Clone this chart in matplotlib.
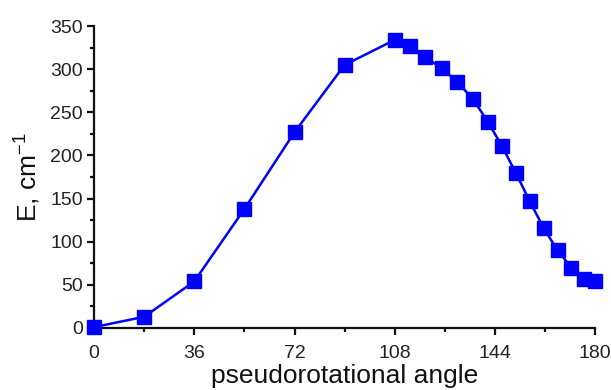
import matplotlib
matplotlib.use("Agg")
import matplotlib.pyplot as plt
from matplotlib.ticker import MultipleLocator

angle = [0, 18, 36, 54, 72, 90, 108, 113.5, 119, 125, 130.5, 136, 141.5,
         146.5, 151.5, 156.5, 161.5, 166.5, 171.5, 176, 180]
energy = [1, 13, 54, 138, 227, 305, 334, 327, 314, 301, 285, 266, 239,
          211, 180, 147, 116, 90, 70, 57, 55]

plt.rcParams['font.family'] = ['Liberation Sans', 'DejaVu Sans']
plt.rcParams['mathtext.fontset'] = 'custom'
plt.rcParams['mathtext.rm'] = 'Liberation Sans'

fig = plt.figure(figsize=(6.11, 3.90), dpi=100)
fig.set_facecolor('white')
ax = fig.add_axes([0.154, 0.159, 0.820, 0.774])

ax.plot(angle, energy, color='#0000ff', linewidth=1.8, marker='s',
        markersize=10, markeredgecolor='#0000ff', clip_on=False, zorder=3)

ax.set_xlim(0, 180)
ax.set_ylim(0, 350)
ax.xaxis.set_major_locator(MultipleLocator(36))
ax.xaxis.set_minor_locator(MultipleLocator(18))
ax.yaxis.set_major_locator(MultipleLocator(50))
ax.yaxis.set_minor_locator(MultipleLocator(25))

for side in ['top', 'right']:
    ax.spines[side].set_visible(False)
for side in ['left', 'bottom']:
    ax.spines[side].set_linewidth(1.6)
    ax.spines[side].set_color('#111111')

ax.tick_params(which='major', direction='out', length=5, width=1.6,
               labelsize=14, pad=3, colors='#111111', labelcolor='#222222')
ax.tick_params(axis='x', which='major', pad=7)
ax.tick_params(which='minor', direction='out', length=3, width=1.6, colors='#111111')

ax.set_xlabel('pseudorotational angle', fontsize=19, labelpad=2, color='#111111')
ax.set_ylabel('E, cm$^{\\mathrm{-1}}$', fontsize=19, labelpad=6, color='#111111')

plt.savefig('out.png', dpi=100)
